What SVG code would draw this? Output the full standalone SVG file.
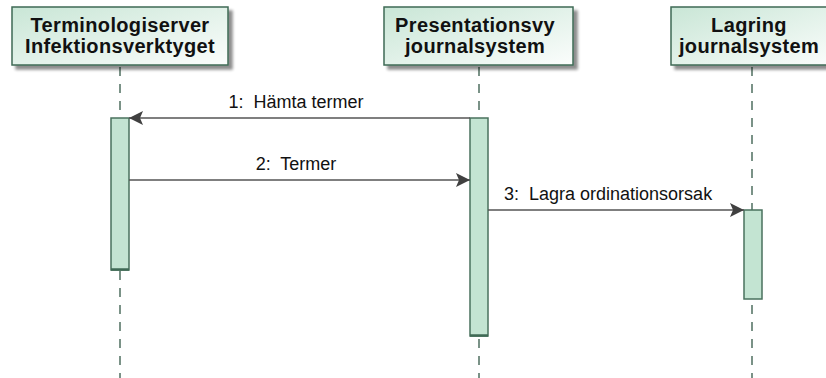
<svg xmlns="http://www.w3.org/2000/svg" width="826" height="378" viewBox="0 0 826 378">
  <defs>
    <linearGradient id="headFill" x1="0" y1="0" x2="1" y2="1">
      <stop offset="0" stop-color="#c9e6d6"/>
      <stop offset="1" stop-color="#fbfdfc"/>
    </linearGradient>
    <filter id="shadow" x="-10%" y="-20%" width="130%" height="160%">
      <feGaussianBlur in="SourceAlpha" stdDeviation="1.5"/>
      <feOffset dx="4" dy="4" result="b"/>
      <feComponentTransfer><feFuncA type="linear" slope="0.45"/></feComponentTransfer>
      <feMerge><feMergeNode/><feMergeNode in="SourceGraphic"/></feMerge>
    </filter>
    <marker id="arrow" viewBox="0 0 14 14" refX="14" refY="7" markerWidth="14" markerHeight="14" markerUnits="userSpaceOnUse" orient="auto">
      <path d="M0,0 L14,7 L0,14 L3,7 Z" fill="#404040"/>
    </marker>
  </defs>
  <style>
    .head { fill: url(#headFill); stroke: #3f6a55; stroke-width: 1.5; filter: url(#shadow); }
    .headText { font-family: "Liberation Sans", Arial, sans-serif; font-weight: bold; font-size: 20px; letter-spacing: 0.35px; fill: #111; text-anchor: middle; }
    .life { stroke: #4f6f60; stroke-width: 1.5; stroke-dasharray: 9 8; fill: none; }
    .act { fill: #c3e4d2; stroke: #4a725e; stroke-width: 1.5; }
    .actBase { stroke: #3f6a55; stroke-width: 2.5; }
    .msg { stroke: #555; stroke-width: 1.5; fill: none; marker-end: url(#arrow); }
    .msgText { font-family: "Liberation Sans", Arial, sans-serif; font-size: 18px; fill: #111; white-space: pre; }
  </style>

  <rect width="826" height="378" fill="#ffffff"/>

  <!-- lifelines -->
  <g id="lifelines">
    <line class="life" x1="120" y1="67" x2="120" y2="378"/>
    <line class="life" x1="479" y1="67" x2="479" y2="378"/>
    <line class="life" x1="752" y1="67" x2="752" y2="378"/>
  </g>

  <g id="terminologiserver">
    <rect class="head" x="12" y="7" width="216" height="58"/>
    <text class="headText" x="120" y="32">Terminologiserver</text>
    <text class="headText" x="120" y="53">Infektionsverktyget</text>
    <rect class="act" x="111" y="118" width="18" height="152"/>
    <line class="actBase" x1="111" y1="269.5" x2="129" y2="269.5"/>
  </g>

  <g id="presentationsvy">
    <rect class="head" x="384" y="7" width="189" height="58"/>
    <text class="headText" x="475" y="32">Presentationsvy</text>
    <text class="headText" x="475" y="53">journalsystem</text>
    <rect class="act" x="470" y="118" width="18" height="218"/>
    <line class="actBase" x1="470" y1="335.5" x2="488" y2="335.5"/>
  </g>

  <g id="lagring">
    <rect class="head" x="671" y="7" width="165" height="58"/>
    <text class="headText" x="749" y="32">Lagring</text>
    <text class="headText" x="749" y="53">journalsystem</text>
    <rect class="act" x="744" y="210" width="18" height="89"/>
  </g>

  <!-- messages -->
  <g id="connectors">
    <line class="msg" x1="470" y1="118" x2="129" y2="118"/>
    <text class="msgText" x="296" y="108" text-anchor="middle" xml:space="preserve">1:  Hämta termer</text>
    <line class="msg" x1="129" y1="180" x2="470" y2="180"/>
    <text class="msgText" x="296" y="170" text-anchor="middle" xml:space="preserve">2:  Termer</text>
    <line class="msg" x1="488" y1="210" x2="744" y2="210"/>
    <text class="msgText" x="504" y="200" xml:space="preserve">3:  Lagra ordinationsorsak</text>
  </g>
</svg>
